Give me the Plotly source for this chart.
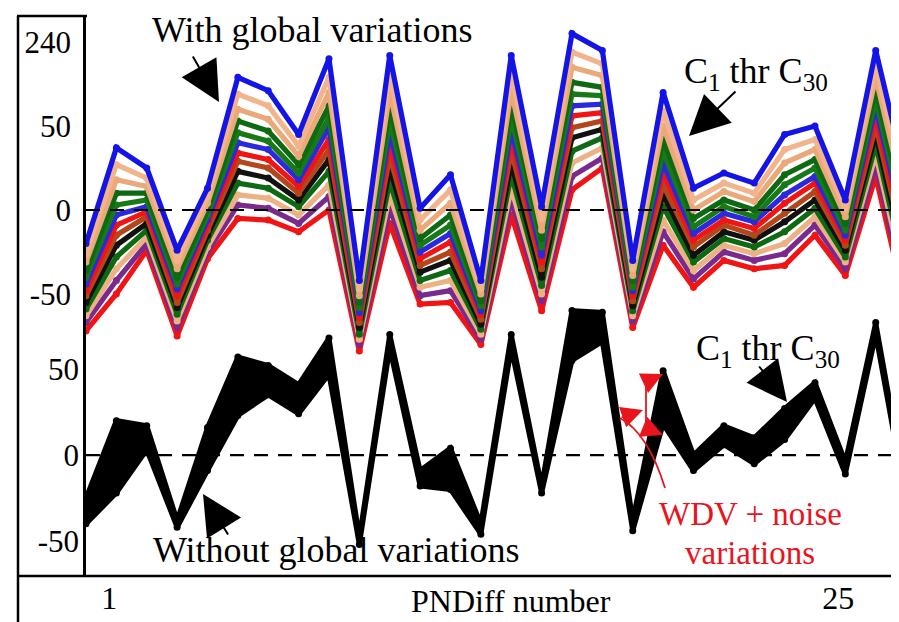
import plotly.graph_objects as go

# ---------------- data ----------------
pn_index = list(range(28))
x_tick_vals = [1, 25]
x_tick_text = ["1", "25"]

top_tick_vals = [100, 50, 0, -50]
top_tick_text = ["240", "50", "0", "-50"]
bottom_tick_vals = [50, 0, -50]
bottom_tick_text = ["50", "0", "-50"]

# With global variations: curves C1..C30 (representative layers, top to bottom)
top_c0 = [-20, 37, 25, -24, 13, 79, 71, 45, 90, -42, 92, 1, 21, -42, 92, 2, 105, 95, -30, 70, 13, 22, 16, 45, 50, 6, 95, 19]
top_c1 = [-26, 27, 19, -30, 8, 69, 62, 38, 79, -47, 80, -6, 12, -47, 81, -5, 94, 87, -35, 59, 6, 16, 10, 36, 42, 1, 86, 10]
top_c2 = [-31, 18, 14, -35, 4, 60, 54, 32, 70, -51, 70, -12, 4, -50, 71, -12, 85, 80, -39, 50, 0, 11, 5, 28, 36, -4, 79, 2]
top_c3 = [-36, 10, 10, -40, 0, 53, 47, 27, 62, -55, 61, -17, -3, -54, 63, -17, 76, 73, -42, 42, -5, 6, 0, 21, 30, -8, 72, -5]
top_c4 = [-40, 3, 6, -44, -3, 46, 41, 22, 55, -58, 53, -21, -9, -57, 55, -22, 69, 68, -46, 35, -10, 2, -4, 15, 25, -12, 66, -11]
top_c5 = [-44, -3, 2, -47, -6, 40, 36, 18, 49, -61, 46, -25, -14, -60, 48, -27, 62, 63, -48, 28, -14, -2, -7, 9, 20, -15, 61, -16]
top_c6 = [-48, -9, -1, -51, -9, 34, 30, 14, 42, -64, 39, -29, -19, -62, 42, -31, 56, 58, -51, 22, -18, -6, -11, 4, 16, -18, 55, -22]
top_c7 = [-51, -15, -4, -55, -12, 29, 25, 10, 36, -67, 32, -33, -25, -65, 35, -35, 49, 53, -54, 15, -22, -9, -15, -2, 11, -21, 50, -27]
top_c8 = [-55, -21, -8, -58, -15, 23, 19, 6, 30, -70, 25, -37, -30, -68, 28, -40, 43, 48, -57, 9, -27, -13, -18, -7, 6, -24, 45, -33]
top_c9 = [-59, -28, -12, -62, -18, 16, 13, 2, 23, -74, 17, -42, -36, -71, 21, -45, 35, 43, -60, 2, -31, -17, -22, -13, 1, -28, 39, -39]
top_c10 = [-63, -35, -16, -66, -22, 9, 7, -3, 15, -77, 9, -46, -42, -74, 13, -50, 28, 37, -63, -6, -36, -21, -26, -20, -4, -31, 33, -45]
top_c11 = [-67, -42, -20, -70, -25, 3, 1, -8, 8, -80, 1, -51, -48, -77, 6, -54, 20, 31, -66, -13, -41, -25, -30, -26, -9, -35, 27, -51]
top_c12 = [-72, -50, -24, -75, -29, -5, -6, -13, 0, -84, -8, -56, -55, -80, -3, -60, 12, 25, -70, -21, -46, -30, -35, -33, -15, -39, 20, -58]

top_curves = [top_c0, top_c1, top_c2, top_c3, top_c4, top_c5, top_c6,
              top_c7, top_c8, top_c9, top_c10, top_c11, top_c12]
top_colors = ["#1414E6", "#F2B48C", "#EBA878", "#0E6A12", "#177A17", "#2A2ADC",
              "#F01414", "#B4461C", "#111111", "#0E6A12", "#EDB283", "#7A2A8C", "#F01414"]

# Without global variations: envelope of C1..C30 (WDV + noise)
wdv_upper = [-25, 20, 17, -38, 16, 57, 52, 41, 68, -48, 70, -9, 4, -40, 70, -18, 84, 83, -38, 49, 0, 17, 10, 27, 42, -4, 77, -22]
wdv_lower = [-40, -22, 3, -42, -9, 23, 35, 24, 47, -52, 62, -18, -20, -46, 62, -22, 55, 66, -44, 18, -9, 6, -5, 9, 33, -11, 70, -27]

# ---------------- layout helpers ----------------
W, H = 899, 622
ML, MR, MT, MB = 78, 0, 8, 54
PW, PH = W - ML - MR, H - MT - MB


def px(x):
    return (x - ML) / PW


def py(y):
    return (H - MB - y) / PH


FONT = "Liberation Serif, Times New Roman, serif"
RED = "#E8141E"
TXT = 36

fig = go.Figure()

# top panel curves (draw bottom layers first)
for curve, color in reversed(list(zip(top_curves, top_colors))):
    fig.add_trace(go.Scatter(
        x=pn_index, y=curve, mode="lines+markers", yaxis="y",
        line=dict(color=color, width=5.2),
        marker=dict(color=color, size=7),
        showlegend=False, hoverinfo="skip"))

# bottom panel envelope
fig.add_trace(go.Scatter(
    x=pn_index, y=wdv_lower, mode="lines+markers", yaxis="y2",
    line=dict(color="black", width=5), marker=dict(color="black", size=7),
    showlegend=False, hoverinfo="skip"))
fig.add_trace(go.Scatter(
    x=pn_index, y=wdv_upper, mode="lines+markers", yaxis="y2",
    fill="tonexty", fillcolor="black",
    line=dict(color="black", width=5), marker=dict(color="black", size=7),
    showlegend=False, hoverinfo="skip"))

shapes = [
    # zero lines
    dict(type="line", xref="paper", yref="y", x0=0, x1=1, y0=0, y1=0,
         line=dict(color="black", width=2.2, dash="14px,10px"), layer="above"),
    dict(type="line", xref="paper", yref="y2", x0=0, x1=1, y0=0, y1=0,
         line=dict(color="black", width=2.2, dash="14px,10px"), layer="above"),
    # frame
    dict(type="line", xref="paper", yref="paper", x0=px(10), x1=px(10), y0=py(619), y1=py(8),
         line=dict(color="black", width=2.5)),
    dict(type="line", xref="paper", yref="paper", x0=px(9), x1=px(79), y0=py(8), y1=py(8),
         line=dict(color="black", width=2.5)),
    dict(type="line", xref="paper", yref="paper", x0=px(9), x1=px(899), y0=py(568), y1=py(568),
         line=dict(color="black", width=2.5)),
    dict(type="line", xref="paper", yref="paper", x0=px(10), x1=px(899), y0=py(619), y1=py(619),
         line=dict(color="#d6d6d6", width=1.5)),
    dict(type="line", xref="paper", yref="paper", x0=px(895), x1=px(895), y0=py(18), y1=py(622),
         line=dict(color="#dddddd", width=1.5)),
    # red WDV bracket + curl
    dict(type="line", xref="paper", yref="paper", x0=px(638), x1=px(638), y0=py(372), y1=py(420),
         line=dict(color=RED, width=1.8)),
    dict(type="path", xref="paper", yref="paper",
         path=f"M {px(657)},{py(480)} Q {px(640)},{py(425)} {px(612)},{py(410)}",
         line=dict(color=RED, width=1.8)),
]


def label(text, x, y, color="black", size=TXT):
    return dict(text=text, x=px(x), y=py(y), xref="paper", yref="paper",
                xanchor="center", yanchor="middle", showarrow=False,
                font=dict(family=FONT, size=size, color=color))


def arrow(tip_x, tip_y, tail_x, tail_y, color="black", size=4.0, width=2):
    return dict(text="", x=px(tip_x), y=py(tip_y), xref="paper", yref="paper",
                ax=tail_x - tip_x, ay=tail_y - tip_y, showarrow=True, arrowhead=2,
                arrowsize=size, arrowwidth=width, arrowcolor=color)


annotations = [
    label("With global variations", 304, 22),
    arrow(211, 94, 184, 47),
    label("C<sub>1</sub> thr C<sub>30</sub>", 748, 66),
    arrow(681, 128, 729, 82),
    label("C<sub>1</sub> thr C<sub>30</sub>", 760, 342),
    arrow(779, 394, 750, 357),
    label("Without global variations", 328, 542),
    arrow(195, 486, 221, 528),
    label("WDV + noise", 742, 506, RED, 33),
    label("variations", 742, 545, RED, 33),
    arrow(655, 366, 638, 374, RED, 2.4, 1.8),
    arrow(655, 427, 638, 420, RED, 2.4, 1.8),
    arrow(635, 402, 612, 410, RED, 2.4, 1.8),
    label("PNDiff number", 503, 593, size=32),
]

fig.update_layout(
    width=W, height=H,
    margin=dict(l=ML, r=MR, t=MT, b=MB),
    paper_bgcolor="white", plot_bgcolor="white",
    font=dict(family=FONT, size=30, color="black"),
    showlegend=False,
    xaxis=dict(range=[0, 27.03], tickvals=x_tick_vals, ticktext=x_tick_text,
               showgrid=False, zeroline=False, showline=False, ticks="",
               ticklabelstandoff=0, ticklabelshift=-7, tickfont=dict(family=FONT, size=32)),
    yaxis=dict(range=[-217.86, 115.48], tickvals=top_tick_vals, ticktext=top_tick_text,
               showgrid=False, zeroline=False, showline=True, linewidth=2.5, linecolor="black",
               ticks="", ticklabelstandoff=6, tickfont=dict(family=FONT, size=31)),
    yaxis2=dict(range=[-70.3, 255.2], tickvals=bottom_tick_vals, ticktext=bottom_tick_text,
                overlaying="y", side="left", showgrid=False, zeroline=False, showline=False,
                ticks="", ticklabelstandoff=6, tickfont=dict(family=FONT, size=31)),
    shapes=shapes,
    annotations=annotations,
)

fig.write_html("out.html")
